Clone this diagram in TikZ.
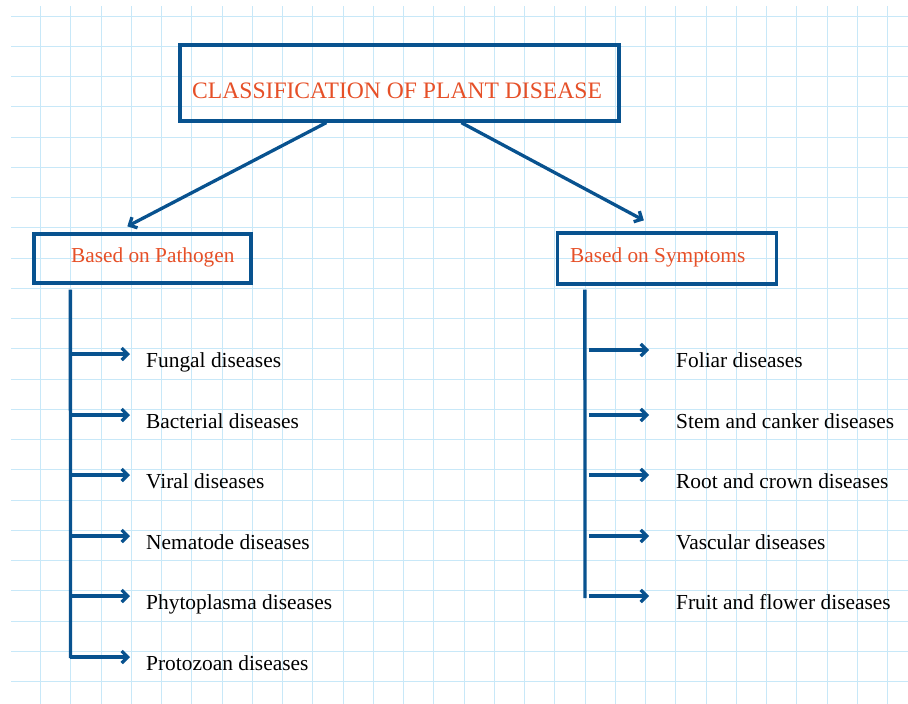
\documentclass[tikz,border=0pt]{standalone}
\usepackage{fontspec}
\setmainfont{Liberation Serif}
\usetikzlibrary{arrows.meta,calc}
\definecolor{gridblue}{RGB}{200,232,248}
\definecolor{dblue}{RGB}{8,82,143}
\definecolor{tred}{RGB}{230,80,40}
\tikzset{
  boxframe/.style={draw=dblue,line width=3.3pt,inner sep=0pt,rectangle},
  boxtext/.style={text=tred,inner sep=0pt,anchor=base west},
  itemtext/.style={text=black,inner sep=0pt,anchor=base west,font=\fontsize{21.4}{24}\selectfont},
  arr/.style={draw=dblue,line width=3.3pt,-{Straight Barb[length=6pt,width=12pt]}},
  trunk/.style={draw=dblue,line width=3.3pt}
}
\begin{document}
\begin{tikzpicture}[x=1pt,y=-1pt]
\useasboundingbox (0,0) rectangle (908,704);
\fill[white] (0,0) rectangle (908,704);
% grid
\foreach \k in {0,...,28} {\draw[gridblue,line width=1pt] ({40.7+30.25*\k},6) -- ({40.7+30.25*\k},704);}
\foreach \k in {0,...,22} {\draw[gridblue,line width=1pt] (11,{16+30.25*\k}) -- (908,{16+30.25*\k});}
% boxes
\node[boxframe,minimum width=439pt,minimum height=76pt] (title) at (399.5,83) {};
\node[boxtext,font=\fontsize{23.6}{26}\selectfont] (titletxt) at (192,98) {CLASSIFICATION OF PLANT DISEASE};
\node[boxframe,minimum width=217pt,minimum height=49pt] (path) at (142.5,258.5) {};
\node[boxtext,font=\fontsize{21.3}{24}\selectfont] (pathtxt) at (71,262) {Based on Pathogen};
\node[boxframe,minimum width=219pt,minimum height=51pt] (symp) at (667,258.5) {};
\node[boxtext,font=\fontsize{21.3}{24}\selectfont] (symptxt) at (570,262) {Based on Symptoms};
% diagonal connectors
\coordinate (tL) at ($(title.south west)+(148,0)$);
\coordinate (tR) at ($(title.south west)+(283,0)$);
\coordinate (pTop) at ($(path.north west)+(95,-6)$);
\coordinate (sTop) at ($(symp.north west)+(88,-11)$);
\draw[arr] (tL) -- (pTop);
\draw[arr] (tR) -- (sTop);
% left items
\node[itemtext] (l1) at (146,367) {Fungal diseases};
\node[itemtext] (l2) at (146,428) {Bacterial diseases};
\node[itemtext] (l3) at (146,488) {Viral diseases};
\node[itemtext] (l4) at (146,549) {Nematode diseases};
\node[itemtext] (l5) at (146,609) {Phytoplasma diseases};
\node[itemtext] (l6) at (146,670) {Protozoan diseases};
\coordinate (ltop) at ($(path.south west)+(38,5)$);
\coordinate (lbot) at (70.5,658);
\draw[trunk] (ltop) -- (lbot);
\foreach \n in {1,...,6} {
  \coordinate (le\n) at ($(l\n.base west)+(-16,-13)$);
  \draw[arr] (ltop |- le\n) -- (le\n);
}
% right items
\node[itemtext] (r1) at (676,367) {Foliar diseases};
\node[itemtext] (r2) at (676,428) {Stem and canker diseases};
\node[itemtext] (r3) at (676,488) {Root and crown diseases};
\node[itemtext] (r4) at (676,549) {Vascular diseases};
\node[itemtext] (r5) at (676,609) {Fruit and flower diseases};
\coordinate (rtop) at ($(symp.south west)+(29,4)$);
\coordinate (rbot) at (585,598);
\draw[trunk] (rtop) -- (rbot);
\coordinate (re1) at ($(r1.base west)+(-27,-17)$);
\draw[arr] ($(rtop |- re1)+(4,0)$) -- (re1);
\foreach \n in {2,...,5} {
  \coordinate (re\n) at ($(r\n.base west)+(-27,-13)$);
  \draw[arr] ($(rtop |- re\n)+(4,0)$) -- (re\n);
}
\end{tikzpicture}
\end{document}
